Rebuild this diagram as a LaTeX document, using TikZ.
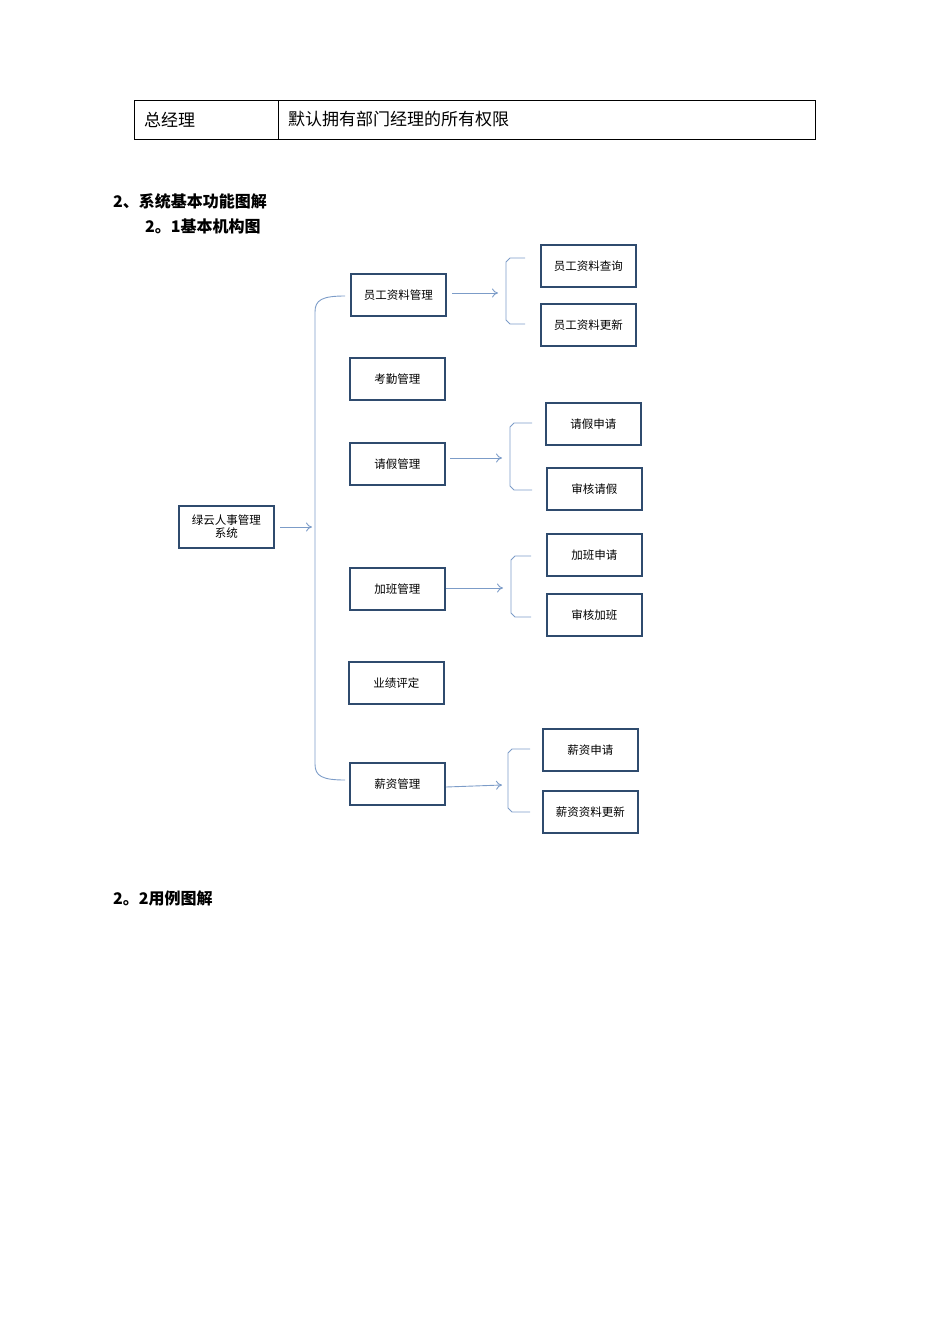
\documentclass[tikz,border=0pt]{standalone}
\usepackage{fontspec}
\usetikzlibrary{arrows.meta}
\newfontfamily\cjk{Noto Sans CJK SC}
\begin{document}
\begin{tikzpicture}[x=1pt,y=-1pt,
 bx/.style={draw=boxc,line width=1.6pt,minimum width=95pt,minimum height=42pt,inner sep=1pt,font=\cjk\fontsize{11.5}{13}\selectfont,align=center,anchor=north west},
 ln/.style={draw=linec,line width=0.9pt},
 ar/.style={ln,-{To[length=6pt,width=9pt]}},
 hd/.style={anchor=west,font=\cjk\bfseries\fontsize{16}{18}\selectfont,inner sep=0}]
\definecolor{boxc}{HTML}{2F4B6E}
\definecolor{linec}{HTML}{7C9CC8}
\useasboundingbox (0,0) rectangle (950,1344);
% table
\draw[line width=0.6pt] (134,100) rectangle (815,139) (278,100) -- (278,139);
\node[anchor=west,font=\cjk\fontsize{17}{19}\selectfont,inner sep=0] (t1) at (144,119.5) {总经理};
\node[anchor=west,font=\cjk\fontsize{17}{19}\selectfont,inner sep=0] (t2) at (288,119.5) {默认拥有部门经理的所有权限};
\node[hd] (h1) at (113,201) {2、系统基本功能图解};
\node[hd] (h2) at (145,226) {2。1基本机构图};
\node[hd] (h3) at (113,898) {2。2用例图解};
% boxes
\node[bx] (root) at (178,505) {绿云人事管理\\系统};
\node[bx] (a) at (350,273) {员工资料管理};
\node[bx] (b) at (349,357) {考勤管理};
\node[bx] (c) at (349,442) {请假管理};
\node[bx] (d) at (349,567) {加班管理};
\node[bx] (e) at (348,661) {业绩评定};
\node[bx] (f) at (349,762) {薪资管理};
\node[bx] (a1) at (540,244) {员工资料查询};
\node[bx] (a2) at (540,303) {员工资料更新};
\node[bx] (c1) at (545,402) {请假申请};
\node[bx] (c2) at (546,467) {审核请假};
\node[bx] (d1) at (546,533) {加班申请};
\node[bx] (d2) at (546,593) {审核加班};
\node[bx] (f1) at (542,728) {薪资申请};
\node[bx] (f2) at (542,790) {薪资资料更新};
% big bracket
\coordinate (bt) at (345,296); \coordinate (bb) at (345,780);
\draw[ln] (bt) .. controls (322,296) and (315,300) .. (315,312) -- (315,764) .. controls (315,776) and (322,780) .. (bb);
\coordinate (rt) at (312,527);
\draw[ar] (280,527) -- (rt);
% small brackets
\coordinate (p1) at (498,293);
\draw[ar] (452,293) -- (p1);
\draw[ln] (525,258) -- (510,258) -- (506,262) -- (506,320) -- (510,324) -- (525,324);
\coordinate (p2) at (502,458);
\draw[ar] (450,458) -- (p2);
\draw[ln] (532,423) -- (514,423) -- (510,427) -- (510,486) -- (514,490) -- (532,490);
\coordinate (p3) at (503,588);
\draw[ar] (446,588) -- (p3);
\draw[ln] (531,556) -- (515,556) -- (511,560) -- (511,613) -- (515,617) -- (531,617);
\coordinate (p4) at (502,785);
\draw[ar] (446,787) -- (p4);
\draw[ln] (530,749) -- (512,749) -- (508,753) -- (508,808) -- (512,812) -- (530,812);
\end{tikzpicture}
\end{document}
